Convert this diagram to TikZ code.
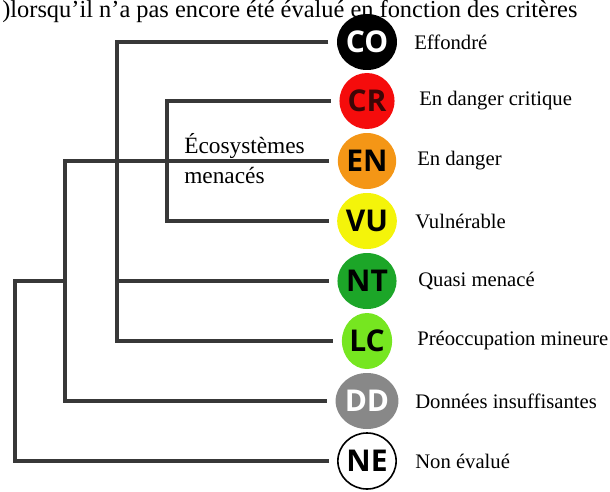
\documentclass[tikz,border=0pt]{standalone}
\usepackage{fontspec}
\setmainfont{Liberation Serif}
\newfontfamily\badgefont{Open Sans}
\usetikzlibrary{shapes.geometric}
\definecolor{crred}{RGB}{245,12,12}
\definecolor{crtext}{RGB}{60,6,6}
\definecolor{enorange}{RGB}{244,150,22}
\definecolor{vuyellow}{RGB}{244,244,10}
\definecolor{ntgreen}{RGB}{28,166,40}
\definecolor{lcgreen}{RGB}{118,230,32}
\definecolor{ddgray}{RGB}{136,136,136}
\tikzset{
  branch/.style={line width=3.2pt, draw=black!78, line join=miter},
  badge/.style={ellipse, inner sep=0pt, minimum width=37.5pt, minimum height=42pt,
    outer sep=6.5pt, font=\badgefont\bfseries\fontsize{22.5}{22}\selectfont},
  catlabel/.style={anchor=west, inner sep=0pt, font=\fontsize{15.5}{18}\selectfont},
}

\begin{document}
\begin{tikzpicture}[x=0.75pt,y=-0.75pt]
\useasboundingbox (0,0) rectangle (610,492);
\node[anchor=base west, inner sep=0pt, font=\fontsize{18.3}{22}\selectfont] (intro) at (2,18) {)lorsqu'il n'a pas encore été évalué en fonction des critères};
\node[badge, fill=black, text=white] (co) at (367,42) {CO};
\node[badge, fill=crred, text=crtext] (cr) at (367,101) {CR};
\node[badge, fill=enorange] (en) at (367,161) {EN};
\node[badge, fill=vuyellow] (vu) at (367,221) {VU};
\node[badge, fill=ntgreen] (nt) at (367,281) {NT};
\node[badge, fill=lcgreen] (lc) at (367,341) {LC};
\node[badge, fill=ddgray, text=white] (dd) at (367,401) {DD};
\node[badge, fill=white, draw=black, line width=1.2pt] (ne) at (367,461) {NE};
\node[catlabel] (co-l) at (414,42) {Effondré};
\node[catlabel] (cr-l) at (419,101) {En danger critique};
\node[catlabel] (en-l) at (417,161) {En danger};
\node[catlabel] (vu-l) at (415,221) {Vulnérable};
\node[catlabel] (nt-l) at (418,281) {Quasi menacé};
\node[catlabel] (lc-l) at (417,341) {Préoccupation mineure};
\node[catlabel] (dd-l) at (415,401) {Données insuffisantes};
\node[catlabel] (ne-l) at (415,461) {Non évalué};
\coordinate (k1) at (117,341);
\coordinate (k2) at (167,221);
\coordinate (k3) at (65,401);
\coordinate (root) at (15,281);
\draw[branch] (co.west) -| (k1) -- (lc.west);
\draw[branch] (nt.west) -- (nt.west -| k1);
\draw[branch] (cr.west) -| (k2) -- (vu.west);
\draw[branch] (en.west) -| (k3) -- (dd.west);
\draw[branch] (ne.west) -| (root) -- (root -| k3);
\node[anchor=north west, align=left, inner sep=0pt, font=\fontsize{17.5}{23}\selectfont] (menaces) at (184,133) {Écosystèmes\\menacés};
\end{tikzpicture}
\end{document}
